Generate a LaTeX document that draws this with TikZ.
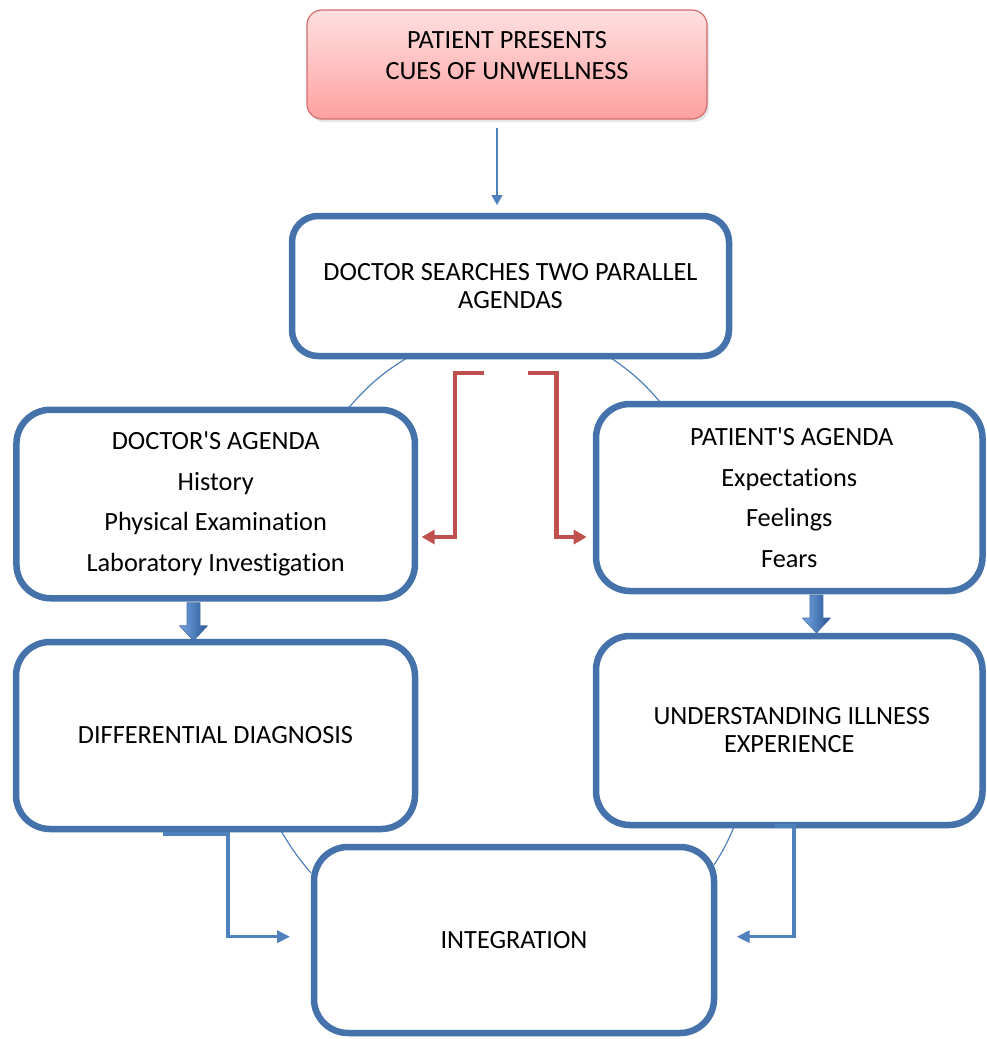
\documentclass[tikz,border=0pt]{standalone}
\usepackage{fontspec}
\newfontfamily\carlito{Carlito}[Ligatures={NoCommon}]
\usetikzlibrary{arrows.meta,shadows}
\pgfdeclarelayer{back}
\pgfsetlayers{back,main}

\definecolor{boxblue}{RGB}{70,114,172}
\definecolor{linkblue}{RGB}{79,129,189}
\definecolor{cuered}{RGB}{192,80,77}
\definecolor{pinktop}{RGB}{255,224,224}
\definecolor{pinkbot}{RGB}{255,160,160}
\definecolor{pinkedge}{RGB}{212,108,108}
\definecolor{arrowlight}{RGB}{118,168,228}
\definecolor{arrowdark}{RGB}{40,84,148}

\begin{document}
\begin{tikzpicture}[x=1pt,y=-1pt,
  every node/.style={text=black},
  txt/.style={font=\carlito\fontsize{26.3}{#1}\selectfont},
  txt/.default=28,
  panel/.style={draw=boxblue, line width=6.5pt, fill=white, rounded corners=34pt,
    outer sep=0pt, inner sep=0pt, align=center,
    drop shadow={shadow xshift=2pt, shadow yshift=-3pt, opacity=.18}},
  cuebox/.style={draw=pinkedge, line width=1.2pt, rounded corners=15pt,
    top color=pinktop, bottom color=pinkbot, outer sep=0pt, inner sep=0pt,
    drop shadow={shadow xshift=2pt, shadow yshift=-3pt, opacity=.2}},
  arc/.style={draw=linkblue, line width=1.2pt},
  thinlink/.style={draw=linkblue, line width=1.3pt, -{Triangle[length=10pt,width=11pt]}},
  redlink/.style={draw=cuered, line width=4.2pt, -{Triangle[length=13pt,width=14pt]}},
  bluelink/.style={draw=linkblue, line width=3.5pt, -{Triangle[length=13pt,width=12pt]}},
  blockarrow/.style={left color=arrowlight, right color=arrowdark, draw=arrowdark!85, line width=.6pt, line join=round}
]
\begin{pgfonlayer}{back}
  \fill[white] (0,0) rectangle (986,1039);
\end{pgfonlayer}
\useasboundingbox (0,0) rectangle (986,1039);

% boxes
\node[cuebox, minimum width=400pt, minimum height=109pt,
  label={[txt=31.5, align=center, yshift=9pt]center:PATIENT PRESENTS\\CUES OF UNWELLNESS}]
  (cue) at (507,64.5) {};
\node[panel, txt, rounded corners=26pt, minimum width=437pt, minimum height=140pt]
  (search) at (510.5,286) {DOCTOR SEARCHES TWO PARALLEL\\AGENDAS};
\node[panel, txt=40.5, minimum width=398.5pt, minimum height=188.5pt]
  (doc) at (215.7,504) {DOCTOR'S AGENDA\\History\\Physical Examination\\Laboratory Investigation};
\node[panel, txt=40.5, minimum width=386.5pt, minimum height=187pt]
  (pat) at (789.25,497.5) {\hspace*{5pt}PATIENT'S AGENDA\\Expectations\\Feelings\\Fears};
\node[panel, txt, minimum width=399pt, minimum height=187pt]
  (diff) at (215.5,735.5) {DIFFERENTIAL DIAGNOSIS};
\node[panel, txt, minimum width=386.5pt, minimum height=189pt]
  (und) at (789.25,730.5) {\hspace*{5pt}UNDERSTANDING ILLNESS\\EXPERIENCE};
\node[panel, txt, minimum width=400pt, minimum height=186pt]
  (integ) at (514,940) {INTEGRATION};

% thin curved links behind the boxes
\begin{pgfonlayer}{back}
  \draw[arc] ([xshift=-100.5pt]search.south) to[bend right=9] ([xshift=131.3pt]doc.north);
  \draw[arc] ([xshift=97.5pt]search.south) to[bend left=8] ([xshift=-127.5pt]pat.north);
  \draw[arc] ([xshift=64.5pt]diff.south) to[bend right=5] ([shift={(-3,-67)}]integ.west);
  \draw[arc] ([xshift=-54.5pt]und.south) to[bend left=5] ([shift={(0,-75)}]integ.east);
\end{pgfonlayer}

% first step
\draw[thinlink] ([shift={(-10,9)}]cue.south) -- ([shift={(-13.5,-11)}]search.north);

% the two agendas fork out of the search
\coordinate (forkL) at ([shift={(-26.5,17)}]search.south);
\coordinate (forkR) at ([shift={(17.5,17)}]search.south);
\draw[redlink] (forkL) -- ++(-29,0) |- ([shift={(6.7,33)}]doc.east);
\draw[redlink] (forkR) -- ++(28.5,0) |- ([shift={(-9.3,39.5)}]pat.west);

% block arrows between the agenda boxes and their outcomes
\shade[blockarrow] ([shift={(-28.7,4.5)}]doc.south) -- ++(13,0) -- ++(0,23) -- ++(7.5,0)
  -- ++(-14,15) -- ++(-14,-15) -- ++(7.5,0) -- cycle;
\shade[blockarrow] ([shift={(20.7,4)}]pat.south) -- ++(13,0) -- ++(0,23) -- ++(7.5,0)
  -- ++(-14,15) -- ++(-14,-15) -- ++(7.5,0) -- cycle;

% both outcomes lead into the integration
\draw[bluelink] ([shift={(-52.5,5)}]diff.south) -- ++(65,0) |- ([shift={(-24,-3.3)}]integ.west);
\draw[bluelink] ([shift={(-14.5,1)}]und.south) -- ++(19,0) |- ([shift={(22.7,-3.3)}]integ.east);
\end{tikzpicture}
\end{document}
